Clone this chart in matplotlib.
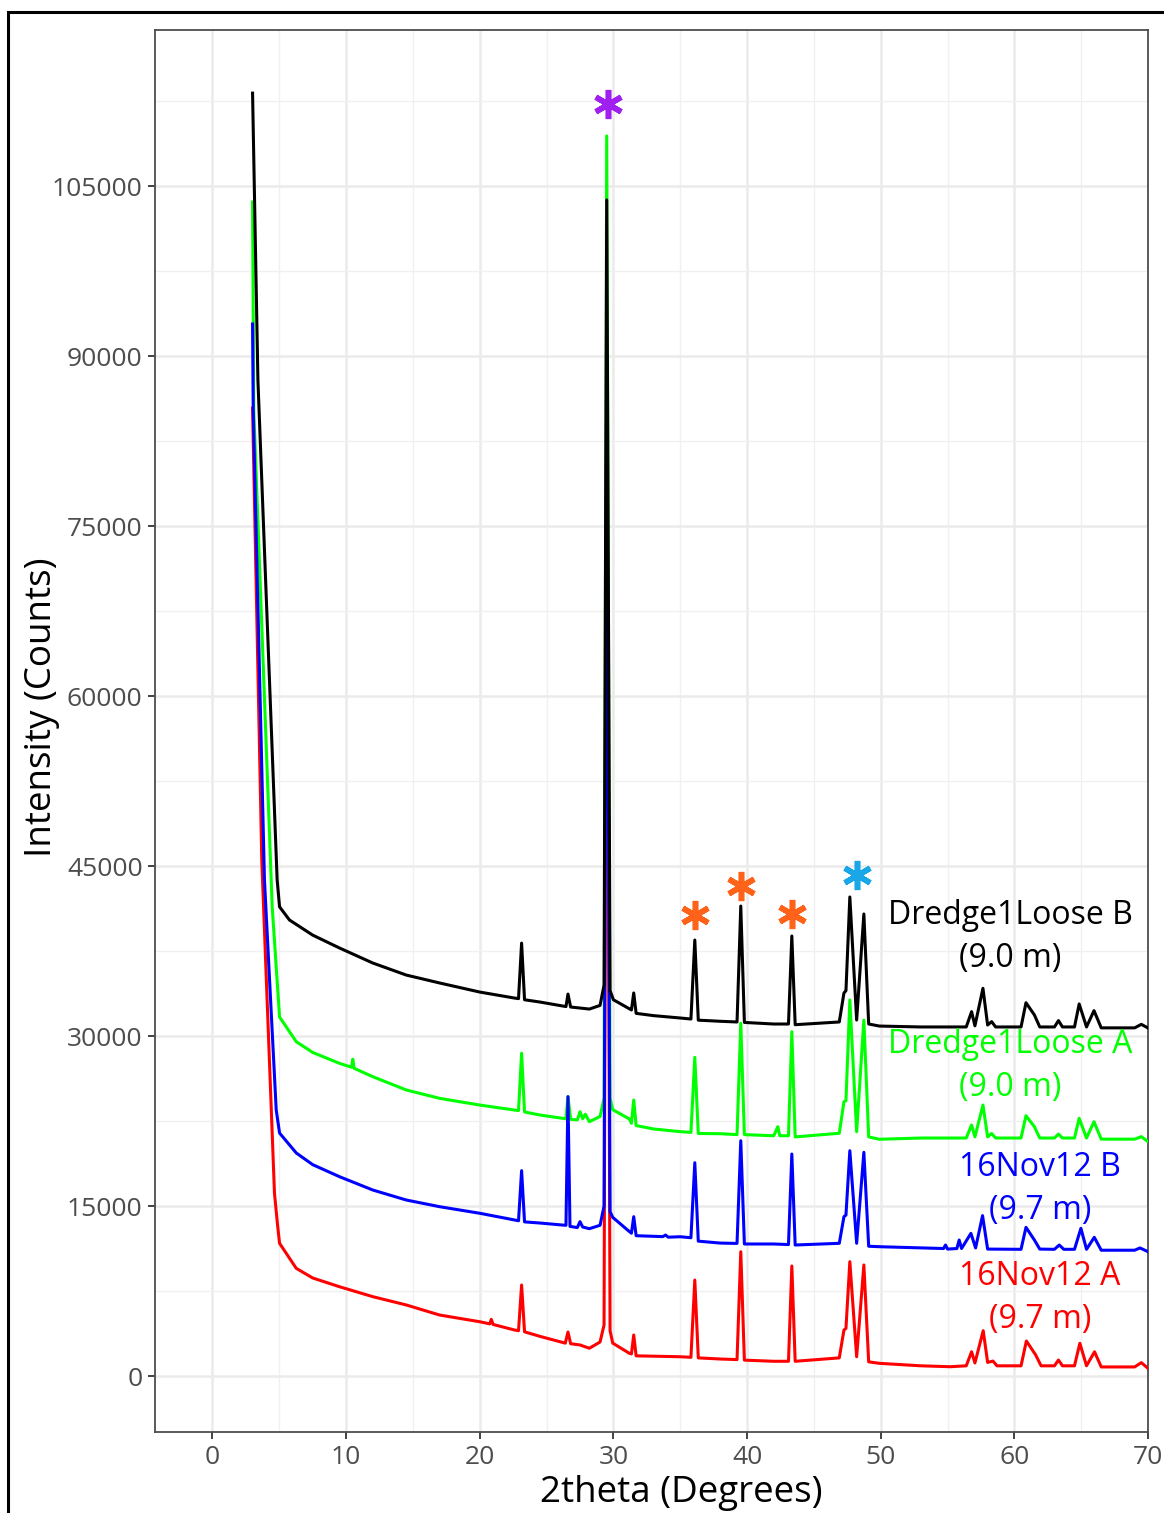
import matplotlib
matplotlib.use("Agg")
import matplotlib.pyplot as plt
from matplotlib.patches import Rectangle
from matplotlib.ticker import MultipleLocator

plt.rcParams['font.family'] = ['Open Sans', 'DejaVu Sans']

# ---- data (2theta in degrees, intensity in counts) ----
black_x = [3.0, 3.4, 4.84, 5.02, 5.76, 7.49, 9.5, 12.0, 14.5, 17.0, 20.0, 22.6, 22.9, 23.13, 23.35,
           24.5, 26.2, 26.45, 26.6, 26.8, 28.2, 29.0, 29.3, 29.5, 29.75, 30.0, 31.2, 31.35, 31.52, 31.7,
           33.0, 35.0, 35.8, 36.09, 36.35, 38.0, 39.25, 39.53, 39.8, 42.0, 43.1, 43.35, 43.6, 46.9,
           47.25, 47.4, 47.69, 48.2, 48.74, 49.1, 49.9, 53.0, 56.4, 56.8, 57.05, 57.65, 58.0, 58.3,
           58.6, 60.5, 60.87, 61.5, 61.9, 63.0, 63.3, 63.6, 64.5, 64.85, 65.4, 65.96, 66.5, 69.0,
           69.5, 70.0]
black_y = [113200, 87900, 43770, 41400, 40240, 38910, 37770, 36440, 35380, 34680, 33880, 33350, 33300,
           38200, 33200, 33000, 32650, 32600, 33700, 32560, 32380, 32700, 34500, 103770, 34000, 33200,
           32400, 32300, 33800, 32000, 31800, 31590, 31500, 38470, 31400, 31300, 31240, 41470, 31200,
           31060, 31060, 38830, 31000, 31240, 33800, 34000, 42270, 31410, 40770, 31060, 30880, 30800,
           30800, 32150, 30900, 34210, 30970, 31270, 30800, 30800, 32940, 31860, 30800, 30800, 31360,
           30800, 30800, 32830, 30800, 32240, 30720, 30720, 31030, 30710]

green_x = [3.0, 3.09, 4.47, 5.02, 6.27, 7.5, 9.5, 10.4, 10.5, 10.6, 12.0, 14.5, 17.0, 20.0, 22.6,
           22.9, 23.13, 23.35, 24.5, 26.2, 26.45, 26.6, 26.8, 27.3, 27.5, 27.7, 27.9, 28.2, 29.0, 29.3,
           29.5, 29.75, 29.95, 31.2, 31.35, 31.52, 31.7, 33.0, 35.0, 35.8, 36.09, 36.35, 38.0, 39.25,
           39.53, 39.8, 42.0, 42.3, 42.45, 43.1, 43.35, 43.6, 46.9, 47.25, 47.4, 47.69, 48.2, 48.74,
           49.1, 49.9, 53.0, 56.4, 56.8, 57.05, 57.65, 58.0, 58.3, 58.6, 60.5, 60.87, 61.5, 61.9, 63.0,
           63.3, 63.6, 64.5, 64.85, 65.4, 65.96, 66.5, 69.0, 69.5, 70.0]
green_y = [103600, 85240, 41390, 31680, 29500, 28550, 27590, 27250, 27950, 27150, 26410, 25240, 24500,
           23910, 23470, 23420, 28480, 23300, 23030, 22740, 22700, 24650, 22650, 22600, 23320, 22700,
           23100, 22440, 22900, 24500, 109420, 24500, 23500, 22680, 22300, 24350, 22100, 21800, 21560,
           21500, 28120, 21400, 21380, 21300, 31120, 21300, 21200, 22000, 21200, 21200, 30380, 21100,
           21420, 24200, 24300, 33180, 21560, 31410, 21100, 20890, 21000, 21000, 22150, 21100, 23910,
           21100, 21400, 21000, 21000, 22970, 22000, 21000, 21000, 21350, 21000, 21000, 22740, 21000,
           22440, 20900, 20900, 21120, 20680]

blue_x = [3.0, 3.05, 3.89, 4.77, 5.02, 6.27, 7.5, 9.5, 12.0, 14.5, 17.0, 20.0, 22.6, 22.9, 23.13,
          23.35, 24.5, 26.2, 26.45, 26.6, 26.75, 27.3, 27.5, 27.7, 28.2, 29.0, 29.3, 29.5, 29.75, 29.95,
          31.2, 31.35, 31.52, 31.7, 33.7, 33.9, 34.1, 35.0, 35.8, 36.09, 36.35, 38.0, 39.25, 39.53,
          39.8, 42.0, 43.1, 43.35, 43.6, 46.9, 47.25, 47.4, 47.69, 48.2, 48.74, 49.1, 49.9, 54.7,
          54.85, 55.0, 55.7, 55.87, 56.05, 56.75, 57.1, 57.62, 58.0, 60.5, 60.87, 61.5, 61.9, 63.0,
          63.36, 63.7, 64.5, 64.98, 65.4, 65.98, 66.5, 69.0, 69.4, 70.0]
blue_y = [92830, 85240, 43770, 23470, 21440, 19680, 18650, 17590, 16410, 15530, 14940, 14360, 13770,
          13700, 18120, 13600, 13500, 13320, 13300, 24650, 13200, 13100, 13620, 13150, 13000, 13300,
          15000, 90000, 14500, 14000, 12740, 12600, 14060, 12380, 12300, 12440, 12250, 12290, 12200,
          18820, 11900, 11730, 11700, 20760, 11650, 11650, 11600, 19590, 11560, 11710, 14060, 14200,
          19880, 11710, 19740, 11450, 11410, 11250, 11560, 11200, 11250, 12000, 11250, 12590, 11300,
          14150, 11200, 11180, 13120, 12000, 11200, 11180, 11560, 11180, 11180, 13030, 11180, 12240,
          11100, 11100, 11300, 10970]

red_x = [3.0, 3.69, 4.64, 4.87, 5.02, 6.27, 7.5, 9.5, 12.0, 14.5, 17.0, 20.0, 20.75, 20.86, 21.0,
         22.6, 22.9, 23.13, 23.35, 24.5, 26.4, 26.6, 26.8, 27.5, 28.2, 29.0, 29.3, 29.5, 29.75, 29.95,
         31.2, 31.35, 31.52, 31.7, 33.0, 35.0, 35.8, 36.09, 36.35, 38.0, 39.25, 39.53, 39.8, 42.0,
         43.1, 43.35, 43.6, 46.9, 47.25, 47.4, 47.69, 48.2, 48.74, 49.1, 49.9, 53.0, 55.2, 56.4,
         56.8, 57.05, 57.67, 58.0, 58.4, 58.7, 60.5, 60.9, 61.6, 62.0, 63.0, 63.3, 63.6, 64.5, 64.9,
         65.4, 66.0, 66.5, 69.0, 69.5, 70.0]
red_y = [85420, 45530, 16120, 13320, 11710, 9500, 8650, 7880, 7000, 6270, 5380, 4790, 4600, 5000,
         4550, 4060, 4000, 8030, 3900, 3500, 2900, 3880, 2850, 2740, 2450, 3000, 4500, 88000, 4000,
         2900, 2000, 1950, 3620, 1780, 1750, 1700, 1650, 8470, 1600, 1500, 1450, 10970, 1400, 1300,
         1300, 9710, 1300, 1600, 4060, 4200, 10090, 1700, 9800, 1250, 1120, 900, 820, 900, 2140,
         1150, 4000, 1200, 1320, 900, 900, 3090, 1850, 900, 900, 1410, 900, 900, 2890, 900, 2140,
         800, 800, 1180, 680]

# sample labels (text, x, y, colour)
label_text = ["Dredge1Loose B\n(9.0 m)", "Dredge1Loose A\n(9.0 m)", "16Nov12 B\n(9.7 m)", "16Nov12 A\n(9.7 m)"]
label_x = [59.7, 59.7, 61.9, 61.9]
label_y = [38740, 27350, 16545, 6880]
label_colors = ["black", "#00FF00", "#0000FF", "#FF0000"]

# asterisks marking phases
star_x = [29.57, 36.09, 39.53, 43.33, 48.19]
star_y = [112240, 40680, 43240, 40770, 44210]
star_colors = ["#A020F0", "#FF6319", "#FF6319", "#FF6319", "#1AA7E8"]

fig = plt.figure(figsize=(11.64, 15.13), dpi=100)
ax = fig.add_axes([155 / 1164, 81 / 1513, 993 / 1164, 1402 / 1513])

# draw order: red at bottom, black on top
ax.plot(red_x, red_y, color="#FF0000", lw=2.2, zorder=3, solid_joinstyle='round')
ax.plot(green_x, green_y, color="#00FF00", lw=2.2, zorder=4, solid_joinstyle='round')
ax.plot(blue_x, blue_y, color="#0000FF", lw=2.2, zorder=5, solid_joinstyle='round')
ax.plot(black_x, black_y, color="black", lw=2.2, zorder=6, solid_joinstyle='round')

for t, x, y, c in zip(label_text, label_x, label_y, label_colors):
    ax.text(x, y, t, color=c, fontsize=23, ha='center', va='center',
            multialignment='center', linespacing=1.4, zorder=7)

for x, y, c in zip(star_x, star_y, star_colors):
    ax.plot(x, y, marker=(6, 2, 0), ms=21, mew=4, color=c, zorder=8)

ax.set_xlim(-4.3, 70)
ax.set_ylim(-4940, 118770)
ax.xaxis.set_major_locator(MultipleLocator(10))
ax.xaxis.set_minor_locator(MultipleLocator(5))
ax.yaxis.set_major_locator(MultipleLocator(15000))
ax.yaxis.set_minor_locator(MultipleLocator(7500))

ax.grid(True, which='major', color='#EBEBEB', lw=1.8, zorder=0)
ax.grid(True, which='minor', color='#F0F0F0', lw=1.0, zorder=0)
ax.set_axisbelow(True)

for s in ax.spines.values():
    s.set_color('#4D4D4D')
    s.set_linewidth(1.3)

ax.tick_params(which='major', length=5, width=1.3, color='#333333',
               labelsize=19, labelcolor='#4D4D4D', pad=4)
ax.tick_params(which='minor', length=0)

ax.set_xlabel("2theta (Degrees)", fontsize=26.5, color='black')
ax.set_ylabel("Intensity (Counts)", fontsize=26.5, color='black')
ax.xaxis.set_label_coords(0.53, -0.0435)
ax.yaxis.set_label_coords(-0.1138, 0.517)
ax.xaxis.label.set_va('center')
ax.yaxis.label.set_va('center')

# outer frame of the exported figure
fig.patches.append(Rectangle((8 / 1164, -0.05), 1.1, (1513 - 12) / 1513 + 0.05,
                             transform=fig.transFigure, fill=False, lw=2.2,
                             edgecolor='black', clip_on=False))

fig.savefig("out.png", dpi=100)
